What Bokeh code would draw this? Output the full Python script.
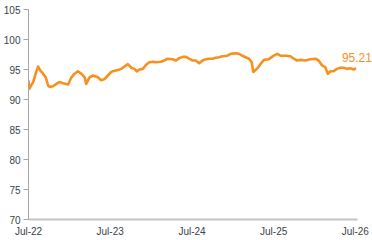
import pandas as pd
from bokeh.plotting import figure
from bokeh.models import FixedTicker, DatetimeTickFormatter, Label, Range1d, ColumnDataSource
from bokeh.embed import file_html
from bokeh.resources import INLINE

dates = [
    "2022-07-01", "2022-07-04", "2022-07-22", "2022-08-02", "2022-08-13", "2022-08-23",
    "2022-09-04", "2022-09-16", "2022-09-27", "2022-10-04", "2022-10-19", "2022-11-03",
    "2022-11-15", "2022-12-03", "2022-12-25", "2023-01-09", "2023-01-23", "2023-02-07",
    "2023-02-22", "2023-03-09", "2023-03-16", "2023-03-31", "2023-04-15", "2023-05-07",
    "2023-05-22", "2023-06-06", "2023-06-21", "2023-07-06", "2023-07-13", "2023-08-05",
    "2023-08-19", "2023-09-03", "2023-09-18", "2023-10-03", "2023-10-17", "2023-10-28",
    "2023-11-09", "2023-11-24", "2023-12-09", "2023-12-23", "2024-01-07", "2024-01-22",
    "2024-02-13", "2024-02-28", "2024-03-14", "2024-04-05", "2024-04-20", "2024-05-05",
    "2024-05-20", "2024-06-04", "2024-06-18", "2024-07-04", "2024-07-18", "2024-08-02",
    "2024-08-17", "2024-09-01", "2024-09-16", "2024-10-01", "2024-10-15", "2024-10-30",
    "2024-11-14", "2024-12-06", "2024-12-21", "2025-01-12", "2025-01-27", "2025-02-11",
    "2025-02-26", "2025-03-13", "2025-03-25", "2025-04-01", "2025-04-12", "2025-04-24",
    "2025-05-04", "2025-05-19", "2025-06-10", "2025-06-17", "2025-07-02", "2025-07-17",
    "2025-08-01", "2025-08-23", "2025-09-14", "2025-09-29", "2025-10-14", "2025-10-29",
    "2025-11-20", "2025-12-12", "2026-01-04", "2026-01-18", "2026-02-02", "2026-02-17",
    "2026-02-28", "2026-03-12", "2026-03-26", "2026-04-10", "2026-04-25", "2026-05-10",
    "2026-05-25", "2026-06-09", "2026-06-23", "2026-07-04",
]
values = [
    93.2, 91.8, 92.9, 94.3, 95.5, 94.8,
    94.3, 93.7, 92.3, 92.1, 92.2, 92.6,
    92.9, 92.7, 92.5, 93.7, 94.3, 94.7,
    94.3, 93.7, 92.6, 93.7, 94.0, 93.7,
    93.2, 93.4, 94.0, 94.6, 94.7, 94.9,
    95.1, 95.5, 95.9, 95.3, 95.1, 94.7,
    95.0, 95.1, 95.8, 96.2, 96.3, 96.2,
    96.3, 96.5, 96.8, 96.7, 96.5, 96.9,
    97.1, 97.1, 96.8, 96.5, 96.5, 96.05,
    96.5, 96.7, 96.8, 96.8, 96.95, 97.05,
    97.2, 97.3, 97.6, 97.7, 97.6, 97.3,
    97.05, 96.8, 96.2, 94.6, 94.95, 95.4,
    95.95, 96.6, 96.7, 96.95, 97.3, 97.6,
    97.3, 97.3, 97.2, 96.8, 96.5, 96.6,
    96.5, 96.7, 96.8, 96.5, 95.7, 95.4,
    94.3, 94.7, 94.7, 95.1, 95.3, 95.3,
    95.1, 95.2, 95.0, 95.21,
]
tick_dates = ["2022-07-01", "2023-07-01", "2024-07-01", "2025-07-01", "2026-07-01"]
y_ticks = [70, 75, 80, 85, 90, 95, 100, 105]
last_label = "95.21"
axis_start, axis_end = "2022-07-01", "2026-07-10"
view_end = "2026-09-16"

x = pd.to_datetime(dates)
src = ColumnDataSource(dict(x=x, y=values))

FONT = "Liberation Sans"
ORANGE = "#F7901E"

p = figure(width=372, height=240, x_axis_type="datetime",
           output_backend="svg", toolbar_location=None,
           min_border_left=27, min_border_right=0, min_border_top=9, min_border_bottom=21)
p.x_range = Range1d(pd.Timestamp(axis_start), pd.Timestamp(view_end))
p.y_range = Range1d(70, 105)
p.outline_line_color = None
p.xgrid.visible = False
p.ygrid.visible = False
p.background_fill_color = "white"
p.border_fill_color = "white"

p.line("x", "y", source=src, line_color=ORANGE, line_width=2.6, line_join="round")

tick_ms = [pd.Timestamp(d).value // 10**6 for d in tick_dates]
xa = p.xaxis[0]
xa.ticker = FixedTicker(ticks=tick_ms)
xa.bounds = (pd.Timestamp(axis_start), pd.Timestamp(axis_end))
xa.formatter = DatetimeTickFormatter(years="%b-%y", months="%b-%y", days="%b-%y",
                                     hours="%b-%y", minutes="%b-%y", seconds="%b-%y",
                                     milliseconds="%b-%y", microseconds="%b-%y")
xa.major_tick_line_color = None
xa.minor_tick_line_color = None
xa.major_tick_out = 0
xa.major_tick_in = 0
xa.axis_line_color = "#c4c4c4"
xa.axis_line_width = 2
xa.major_label_standoff = 6
xa.major_label_text_font = FONT
xa.major_label_text_font_size = "10px"
xa.major_label_text_color = "#3a3f4a"

ya = p.yaxis[0]
ya.ticker = FixedTicker(ticks=y_ticks)
ya.minor_tick_line_color = None
ya.major_tick_in = 0
ya.major_tick_out = 5
ya.major_tick_line_color = "#a6a6a6"
ya.axis_line_color = "#a6a6a6"
ya.axis_line_width = 1
ya.major_label_standoff = 3
ya.major_label_text_font = FONT
ya.major_label_text_font_size = "10px"
ya.major_label_text_color = "#3a3f4a"

lab = Label(x=x[-1], y=values[-1], text=last_label, x_offset=16, y_offset=11,
            text_align="right", text_baseline="alphabetic",
            text_font=FONT, text_font_size="12px", text_color=ORANGE)
p.add_layout(lab)

open("out.html", "w").write(file_html(p, INLINE))
